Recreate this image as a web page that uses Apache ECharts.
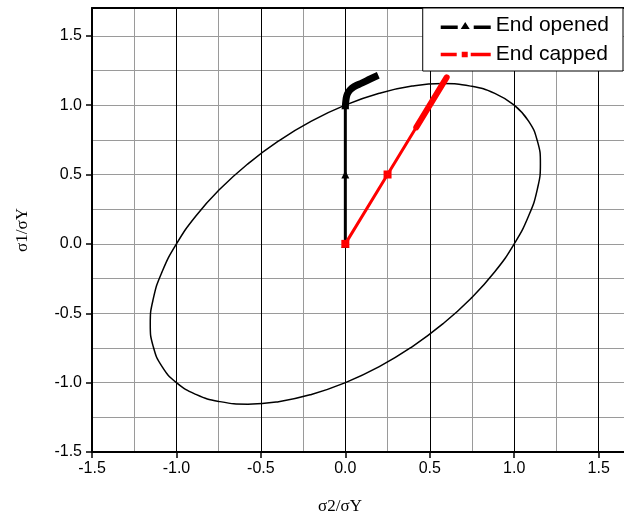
<!DOCTYPE html>
<html>
<head>
<meta charset="utf-8">
<style>html,body{margin:0;padding:0;background:#fff;}#c{width:624px;height:523px;}</style>
<script src="https://cdn.jsdelivr.net/npm/echarts@6/dist/echarts.min.js"></script>
</head>
<body>
<div id="c"></div>
<script>
// Yield locus (von Mises ellipse) points [sigma2, sigma1]
const ellipse = [
  [1.000,1.000],[0.885,1.085],[0.742,1.137],[0.577,1.155],[0.395,1.137],[0.201,1.085],
  [0.000,1.000],[-0.201,0.885],[-0.395,0.742],[-0.577,0.577],[-0.742,0.395],[-0.885,0.201],
  [-1.000,0.000],[-1.085,-0.201],[-1.137,-0.395],[-1.155,-0.577],[-1.137,-0.742],[-1.085,-0.885],
  [-1.000,-1.000],[-0.885,-1.085],[-0.742,-1.137],[-0.577,-1.155],[-0.395,-1.137],[-0.201,-1.085],
  [0.000,-1.000],[0.201,-0.885],[0.395,-0.742],[0.577,-0.577],[0.742,-0.395],[0.885,-0.201],
  [1.000,0.000],[1.085,0.201],[1.137,0.395],[1.155,0.577],[1.137,0.742],[1.085,0.885],[1.000,1.000]
];
// End opened path
const openedMain = [[0,0],[0,0.5],[0,1.0]];
const openedDense = [[0,0.98],[0.004,1.04],[0.012,1.08],[0.028,1.11],[0.055,1.135],[0.1,1.16],[0.15,1.19],[0.195,1.215]];
// End capped path
const cappedMain = [[0,0],[0.25,0.5],[0.44,0.88]];
const cappedDense = [[0.42,0.84],[0.6,1.2]];

const xTicks = {min:-1.5, max:1.65};
const yTicks = {min:-1.5, max:1.7};

const chart = echarts.init(document.getElementById('c'));
const lab = {fontFamily:'Liberation Sans', fontSize:16, color:'#000'};
const cappedData = cappedMain.map((p,i)=> i===cappedMain.length-1 ? {value:p, symbol:'none'} : p);
chart.setOption({
  animation:false,
  grid:{left:92, right:0, top:8, bottom:71},
  legend:{
    orient:'vertical', right:1, top:8,
    backgroundColor:'#fff', borderColor:'#000', borderWidth:1, borderRadius:0,
    padding:[7,14,6,18], itemGap:8, itemWidth:50, itemHeight:12,
    textStyle:{fontFamily:'Liberation Sans', fontSize:21, color:'#000'},
    data:[
      {name:'End opened', icon:'path://M0,5h17v3.5h-17z M20,8.5l4.5,-7l4.5,7z M33,5h17v3.5h-17z'},
      {name:'End capped', icon:'path://M0,5h16v3.5h-16z M21,4h6v5.5h-6z M30,5h20v3.5h-20z'}
    ]
  },
  xAxis:[
    {type:'value', min:xTicks.min, max:xTicks.max, interval:0.25, position:'bottom',
     axisLine:{show:false}, axisTick:{show:false}, axisLabel:{show:false},
     splitLine:{show:true, lineStyle:{color:'#9a9a9a', width:1}}},
    {type:'value', min:xTicks.min, max:xTicks.max, interval:0.5, position:'bottom',
     name:'σ2/σY', nameLocation:'middle', nameGap:46,
     nameTextStyle:{fontFamily:'Liberation Serif', fontSize:17, color:'#000', padding:[0,36,0,0]},
     axisLine:{show:true, onZero:false, lineStyle:{color:'#000', width:2}},
     axisTick:{show:true, inside:false, length:6, lineStyle:{color:'#000', width:1.5}},
     axisLabel:Object.assign({margin:9, showMaxLabel:false, formatter:v=>v.toFixed(1)}, lab),
     splitLine:{show:true, lineStyle:{color:'#000', width:1}}},
    {type:'value', min:xTicks.min, max:xTicks.max, position:'top',
     axisLine:{show:true, onZero:false, lineStyle:{color:'#000', width:2}},
     axisTick:{show:false}, axisLabel:{show:false}, splitLine:{show:false}}
  ],
  yAxis:[
    {type:'value', min:yTicks.min, max:yTicks.max, interval:0.25, position:'left',
     axisLine:{show:false}, axisTick:{show:false}, axisLabel:{show:false},
     splitLine:{show:true, lineStyle:{color:'#9a9a9a', width:1}}},
    {type:'value', min:yTicks.min, max:yTicks.max, interval:0.5, position:'left',
     name:'σ1/σY', nameLocation:'middle', nameGap:61,
     nameTextStyle:{fontFamily:'Liberation Serif', fontSize:17, color:'#000'},
     axisLine:{show:true, onZero:false, lineStyle:{color:'#000', width:2}},
     axisTick:{show:true, inside:false, length:6, lineStyle:{color:'#000', width:1.5}},
     axisLabel:Object.assign({margin:10, showMaxLabel:false, formatter:v=>v.toFixed(1)}, lab),
     splitLine:{show:false}}
  ],
  series:[
    {type:'line', name:'locus', xAxisIndex:1, yAxisIndex:1, data:ellipse, smooth:true,
     showSymbol:false, lineStyle:{color:'#000', width:1.5}, silent:true, z:2},
    {type:'line', name:'End opened', xAxisIndex:1, yAxisIndex:1, data:openedMain,
     symbol:'triangle', symbolSize:8, showSymbol:true, color:'#000',
     itemStyle:{color:'#000'}, lineStyle:{color:'#000', width:3}, z:3},
    {type:'line', name:'End opened dense', xAxisIndex:1, yAxisIndex:1, data:openedDense, smooth:true,
     showSymbol:false, lineStyle:{color:'#000', width:7, cap:'butt'}, z:3},
    {type:'line', name:'End capped', xAxisIndex:1, yAxisIndex:1, data:cappedData,
     symbol:'rect', symbolSize:8, showSymbol:true, color:'#f00',
     itemStyle:{color:'#f00'}, lineStyle:{color:'#f00', width:3}, z:4},
    {type:'line', name:'End capped dense', xAxisIndex:1, yAxisIndex:1, data:cappedDense,
     showSymbol:false, lineStyle:{color:'#f00', width:6, cap:'round'}, z:4}
  ]
});
</script>
</body>
</html>
